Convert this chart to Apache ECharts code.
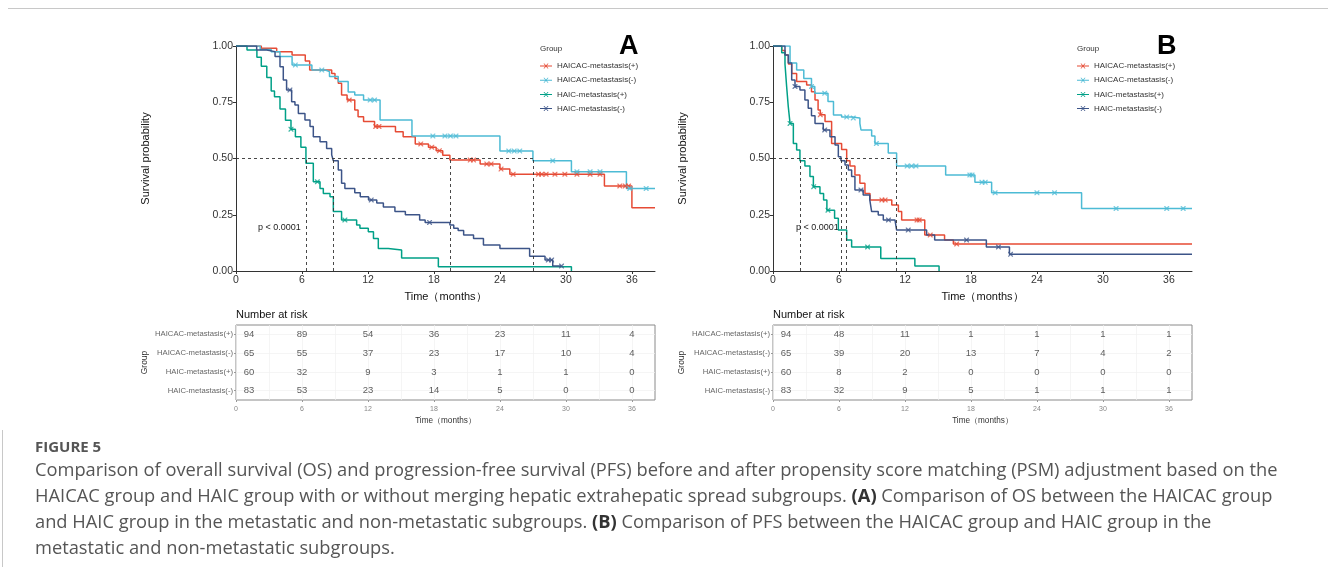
<!DOCTYPE html>
<html><head><meta charset="utf-8">
<script src="https://cdn.jsdelivr.net/npm/echarts/dist/echarts.min.js"></script>
<style>html,body{margin:0;padding:0;background:#fff;}#c{width:1328px;height:567px;}</style>
</head><body><div id="c"></div>
<script>
// ---------- data ----------
const groups = ['HAICAC-metastasis(+)','HAICAC-metastasis(-)','HAIC-metastasis(+)','HAIC-metastasis(-)'];
const colors = ['#E64B35','#4DBBD5','#00A087','#3C5488'];
const timeTicks = [0,6,12,18,24,30,36];

// Panel A: overall survival, [months, survival]
const osHaicacPos = [[0,1],[2.3,0.99],[3.7,0.975],[5.1,0.96],[6.3,0.933],[6.7,0.893],[8.7,0.878],[9.0,0.856],[9.3,0.834],[9.6,0.782],[10.1,0.76],[10.8,0.716],[11.1,0.686],[11.6,0.664],[12.6,0.642],[14.5,0.619],[15.2,0.597],[16.3,0.565],[17.5,0.55],[18.2,0.535],[18.8,0.515],[19.45,0.493],[22.2,0.476],[24.0,0.453],[24.9,0.43],[33.5,0.378],[36.0,0.281],[38.1,0.281]];
const osHaicacNeg = [[0,1],[2.2,0.985],[3.2,0.975],[4.0,0.953],[5.1,0.916],[6.9,0.893],[8.1,0.886],[8.5,0.864],[9.3,0.842],[10.2,0.796],[10.8,0.782],[11.6,0.76],[13.1,0.671],[16.0,0.6],[24.0,0.533],[27.0,0.49],[30.5,0.441],[35.5,0.367],[38.1,0.367]];
const osHaicPos = [[0,1],[1.0,0.982],[1.9,0.95],[2.3,0.91],[2.8,0.86],[3.2,0.8],[3.5,0.775],[4.0,0.72],[4.5,0.67],[5.0,0.63],[5.4,0.597],[5.9,0.55],[6.36,0.479],[7.03,0.397],[7.64,0.367],[7.94,0.345],[8.55,0.33],[8.85,0.264],[9.6,0.227],[10.97,0.204],[11.27,0.19],[12.03,0.175],[12.5,0.145],[12.94,0.1],[13.85,0.093],[15.06,0.058],[18.4,0.019],[30.5,0]];
const osHaicNeg = [[0,1],[1.88,0.982],[2.79,0.975],[3.55,0.953],[4.0,0.908],[4.3,0.849],[4.6,0.804],[5.06,0.752],[5.36,0.738],[5.67,0.7],[6.27,0.671],[6.73,0.642],[7.03,0.597],[7.64,0.575],[8.24,0.545],[8.7,0.516],[8.85,0.49],[9.3,0.449],[9.6,0.39],[9.9,0.367],[10.8,0.348],[11.3,0.33],[12.05,0.316],[12.8,0.302],[13.4,0.284],[14.45,0.264],[15.4,0.25],[16.7,0.227],[17.2,0.216],[19.45,0.204],[19.8,0.19],[20.2,0.18],[20.7,0.16],[21.6,0.145],[22.5,0.116],[24.0,0.1],[26.7,0.066],[28.1,0.049],[28.8,0.022],[29.6,0.022]];
const osCensHaicacPos = [10.3,12.7,13.0,16.8,17.8,18.5,21.3,21.6,22.8,23.2,24.1,25.2,27.5,27.8,28.2,29.0,29.9,31.0,32.2,33.1,34.9,35.4,35.7];
const osCensHaicacNeg = [5.4,7.8,12.2,12.6,17.9,19.0,19.5,20.0,24.8,25.3,25.8,28.8,31.0,32.2,33.1,35.8,37.3];
const osCensHaicPos = [5.0,7.4,9.9];
const osCensHaicNeg = [4.9,12.3,17.6,28.4,28.7,29.6];
const osMedians = [6.36,8.85,19.45,27.0];

// Panel B: progression-free survival
const pfsHaicacPos = [[0,1],[0.8,0.98],[1.1,0.96],[1.4,0.92],[1.7,0.878],[2.15,0.842],[3.06,0.827],[3.5,0.797],[3.82,0.76],[4.1,0.716],[4.3,0.695],[4.73,0.664],[5.33,0.567],[6.24,0.54],[6.7,0.49],[7.0,0.467],[7.45,0.427],[7.9,0.39],[8.36,0.345],[8.82,0.316],[10.8,0.293],[11.4,0.264],[11.7,0.227],[13.8,0.16],[15.6,0.138],[16.4,0.12],[38.1,0.12]];
const pfsHaicacNeg = [[0,1],[1.55,0.925],[2.15,0.893],[2.8,0.856],[3.5,0.82],[3.8,0.79],[5.0,0.753],[5.5,0.693],[6.24,0.684],[7.15,0.68],[7.9,0.656],[8.0,0.627],[8.97,0.6],[9.27,0.567],[10.48,0.524],[11.24,0.467],[15.7,0.427],[18.36,0.394],[19.88,0.348],[28.06,0.278],[38.1,0.278]];
const pfsHaicPos = [[0,1],[0.79,0.97],[1.09,0.92],[1.24,0.82],[1.39,0.73],[1.55,0.656],[1.85,0.567],[2.15,0.538],[2.45,0.49],[2.9,0.467],[3.36,0.42],[3.67,0.375],[4.27,0.345],[4.6,0.316],[4.9,0.27],[5.6,0.235],[5.94,0.182],[6.7,0.138],[7.15,0.107],[9.8,0.056],[12.9,0.022],[15.1,0]];
const pfsHaicNeg = [[0,1],[1.09,0.96],[1.39,0.925],[1.7,0.849],[2.0,0.82],[2.45,0.804],[2.9,0.76],[3.2,0.723],[3.5,0.69],[3.82,0.656],[4.57,0.627],[5.18,0.597],[5.64,0.56],[5.94,0.508],[6.18,0.49],[6.55,0.471],[6.85,0.449],[7.15,0.42],[7.45,0.36],[8.2,0.338],[8.8,0.316],[8.97,0.264],[9.57,0.249],[10.03,0.227],[11.09,0.22],[11.24,0.182],[13.97,0.16],[14.7,0.138],[19.4,0.107],[21.5,0.074],[38.1,0.074]];
const pfsCensHaicacPos = [4.3,9.9,10.2,13.1,13.3,14.3,16.7];
const pfsCensHaicacNeg = [3.5,4.7,6.7,7.3,9.4,12.2,12.6,13.0,17.9,18.1,19.0,19.3,20.2,24.0,25.6,31.2,35.8,37.3];
const pfsCensHaicPos = [1.55,3.7,5.0,8.6];
const pfsCensHaicNeg = [2.0,4.7,8.0,10.5,12.3,17.6,20.5,21.6];
const pfsMedians = [2.45,6.18,6.7,11.24];

// Number at risk at timeTicks
const osRiskHaicacPos = [94,89,54,36,23,11,4];
const osRiskHaicacNeg = [65,55,37,23,17,10,4];
const osRiskHaicPos = [60,32,9,3,1,1,0];
const osRiskHaicNeg = [83,53,23,14,5,0,0];
const pfsRiskHaicacPos = [94,48,11,1,1,1,1];
const pfsRiskHaicacNeg = [65,39,20,13,7,4,2];
const pfsRiskHaicPos = [60,8,2,0,0,0,0];
const pfsRiskHaicNeg = [83,32,9,5,1,1,1];

const captionTitle = 'FIGURE 5';
const captionLines = [
  'Comparison of overall survival (OS) and progression-free survival (PFS) before and after propensity score matching (PSM) adjustment based on the',
  'HAICAC group and HAIC group with or without merging hepatic extrahepatic spread subgroups. {b|(A)} Comparison of OS between the HAICAC group',
  'and HAIC group in the metastatic and non-metastatic subgroups. {b|(B)} Comparison of PFS between the HAICAC group and HAIC group in the',
  'metastatic and non-metastatic subgroups.'
];

// ---------- build ----------
const FONT = '"Liberation Sans", Arial, sans-serif';
const CAP_FONT = '"Open Sans", "Noto Sans", sans-serif';
const T_MAX = 38.1;
const xIcon = 'path://M0,3.5L12,3.5L12,4.5L0,4.5Z M3.5,1.5L4.4,1.5L8.5,6.5L7.6,6.5Z M7.6,1.5L8.5,1.5L4.4,6.5L3.5,6.5Z';
const censorSym = 'path://M0,0L1.9,0L10,8.1L10,10L8.1,10L0,1.9Z M8.1,0L10,0L10,1.9L1.9,10L0,10L0,8.1Z';

function survAt(curve, t){ let s = curve[0][1]; for (const p of curve){ if (p[0] <= t) s = p[1]; else break; } return s; }

const panels = [
  {curves:[osHaicacPos,osHaicacNeg,osHaicPos,osHaicNeg], cens:[osCensHaicacPos,osCensHaicacNeg,osCensHaicPos,osCensHaicNeg], med:osMedians, risk:[osRiskHaicacPos,osRiskHaicacNeg,osRiskHaicPos,osRiskHaicNeg], left:236, letter:'A'},
  {curves:[pfsHaicacPos,pfsHaicacNeg,pfsHaicPos,pfsHaicNeg], cens:[pfsCensHaicacPos,pfsCensHaicacNeg,pfsCensHaicPos,pfsCensHaicNeg], med:pfsMedians, risk:[pfsRiskHaicacPos,pfsRiskHaicacNeg,pfsRiskHaicPos,pfsRiskHaicNeg], left:773, letter:'B'}
];

const grid = [], xAxis = [], yAxis = [], series = [], legend = [], graphic = [];
panels.forEach((P, pi) => {
  const gP = pi*2, gT = pi*2+1;
  grid.push({left:P.left, top:46, width:419, height:225, containLabel:false});
  grid.push({left:P.left, top:325, width:419, height:75, show:true, borderColor:'#8a8a8a', borderWidth:1, backgroundColor:'#fff'});
  xAxis.push({type:'value', gridIndex:gP, min:0, max:T_MAX, interval:6,
    name:'Time（months）', nameLocation:'middle', nameGap:20, nameTextStyle:{fontSize:11, color:'#111', fontFamily:FONT},
    axisLine:{show:true, onZero:false, lineStyle:{color:'#333', width:1}},
    axisTick:{show:true, length:3, customValues:timeTicks, lineStyle:{color:'#333'}},
    axisLabel:{fontSize:10.5, color:'#333', margin:4, fontFamily:FONT, customValues:timeTicks},
    splitLine:{show:false}});
  yAxis.push({type:'value', gridIndex:gP, min:0, max:1, interval:0.25,
    name:'Survival probability', nameLocation:'middle', nameGap:85, nameRotate:90, nameTextStyle:{fontSize:11, color:'#111', fontFamily:FONT},
    axisLine:{show:true, onZero:false, lineStyle:{color:'#333', width:1}},
    axisTick:{show:true, length:3, lineStyle:{color:'#333'}},
    axisLabel:{fontSize:10.5, color:'#333', margin:3, fontFamily:FONT, formatter:v=>v.toFixed(2)},
    splitLine:{show:false}});
  xAxis.push({type:'value', gridIndex:gT, min:0, max:T_MAX, interval:6,
    name:'Time（months）', nameLocation:'middle', nameGap:17, nameTextStyle:{fontSize:8.2, color:'#333', fontFamily:FONT},
    axisLine:{show:false},
    axisTick:{show:true, length:2, customValues:timeTicks, lineStyle:{color:'#999'}},
    axisLabel:{fontSize:7, color:'#888', margin:6, fontFamily:FONT, customValues:timeTicks},
    splitLine:{show:false}});
  yAxis.push({type:'category', gridIndex:gT, data:groups, inverse:true,
    name:'Group', nameLocation:'middle', nameGap:87, nameRotate:90, nameTextStyle:{fontSize:8.5, color:'#333', fontFamily:FONT},
    axisLine:{show:false},
    axisTick:{show:true, length:2, alignWithLabel:true, lineStyle:{color:'#999'}},
    axisLabel:{fontSize:7.7, color:'#666', margin:3, fontFamily:FONT},
    splitLine:{show:false}});

  // KM curves
  P.curves.forEach((c, i) => {
    const s = {type:'line', name:groups[i], step:'end', data:c, xAxisIndex:gP, yAxisIndex:gP,
      symbol:'none', lineStyle:{color:colors[i], width:1.5}, itemStyle:{color:colors[i]}, animation:false, z:3};
    if (i === 0) {
      const maxMed = Math.max(...P.med);
      s.markLine = {silent:true, symbol:['none','none'], label:{show:false}, animation:false,
        lineStyle:{type:[3,3], color:'#333', width:0.9},
        data:[[{coord:[0,0.5]},{coord:[maxMed,0.5]}]].concat(P.med.map(m => [{coord:[m,0]},{coord:[m,0.5]}]))};
    }
    series.push(s);
  });
  // censor marks
  P.cens.forEach((arr, i) => {
    series.push({type:'scatter', name:groups[i], xAxisIndex:gP, yAxisIndex:gP, symbol:censorSym, symbolSize:5,
      data:arr.map(t => [t, survAt(P.curves[i], t)]), itemStyle:{color:colors[i], opacity:0.75}, animation:false, z:4});
  });
  // risk table
  const rdata = [];
  P.risk.forEach((row, gi) => row.forEach((n, k) => {
    const it = {value:[timeTicks[k], groups[gi], n]};
    if (k === 0) it.label = {offset:[13,0]};
    rdata.push(it);
  }));
  const gridTimes = [];
  timeTicks.forEach(t => { gridTimes.push(t); if (t + 3 < T_MAX) gridTimes.push(t + 3); });
  // faint table grid (under the numbers)
  series.push({type:'scatter', xAxisIndex:gT, yAxisIndex:gT, symbolSize:0, data:rdata.map(d => d.value), animation:false, silent:true, z:1,
    encode:{x:0, y:1},
    markLine:{silent:true, symbol:['none','none'], label:{show:false}, animation:false,
      lineStyle:{type:'solid', color:'#f0f0f0', width:0.7},
      data:groups.map(g => ({yAxis:g})).concat(gridTimes.map(t => ({xAxis:t})))}});
  series.push({type:'scatter', xAxisIndex:gT, yAxisIndex:gT, symbolSize:0, data:rdata, animation:false, silent:true, z:6,
    encode:{x:0, y:1},
    label:{show:true, position:'inside', formatter:p => String(p.value[2]), fontSize:9.5, color:'#333', fontFamily:FONT}});

  const lx = P.left === 236 ? 540 : 1077;
  legend.push({orient:'vertical', left:lx, top:62, padding:0, itemWidth:12, itemHeight:5, itemGap:6.2,
    textStyle:{fontSize:8, color:'#333', fontFamily:FONT},
    data:groups.map(g => ({name:g, icon:xIcon}))});
  graphic.push({type:'text', left:lx, top:45, style:{text:'Group', fontSize:8, fill:'#333', fontFamily:FONT}});
  graphic.push({type:'text', left:(P.left === 236 ? 619 : 1157), top:33, style:{text:P.letter, fontSize:27, fontWeight:'bold', fill:'#000', fontFamily:FONT}});
  graphic.push({type:'text', left:(P.left === 236 ? 258 : 796), top:223, style:{text:'p < 0.0001', fontSize:9, fill:'#222', fontFamily:FONT}});
  graphic.push({type:'text', left:P.left, top:309, style:{text:'Number at risk', fontSize:11, fill:'#111', fontFamily:FONT}});
});

// figure frame and caption
graphic.push({type:'line', shape:{x1:8, y1:8.5, x2:1328, y2:8.5}, style:{stroke:'#c8c8c8', lineWidth:1}});
graphic.push({type:'line', shape:{x1:2.5, y1:430, x2:2.5, y2:567}, style:{stroke:'#c8c8c8', lineWidth:1}});
graphic.push({type:'text', left:35, top:440, style:{text:captionTitle, fontSize:15, fontWeight:'bold', fill:'#555', fontFamily:CAP_FONT}});
captionLines.forEach((ln, i) => {
  graphic.push({type:'text', left:35, top:462 + i*25.8, style:{text:ln, fontSize:18.3, fill:'#555', fontFamily:CAP_FONT,
    rich:{b:{fontSize:18.3, fontWeight:'bold', fill:'#333', fontFamily:CAP_FONT}}}});
});

const chart = echarts.init(document.getElementById('c'), null, {renderer:'canvas', width:1328, height:567});
chart.setOption({animation:false, backgroundColor:'#fff', grid, xAxis, yAxis, series, legend, graphic});
</script></body></html>
